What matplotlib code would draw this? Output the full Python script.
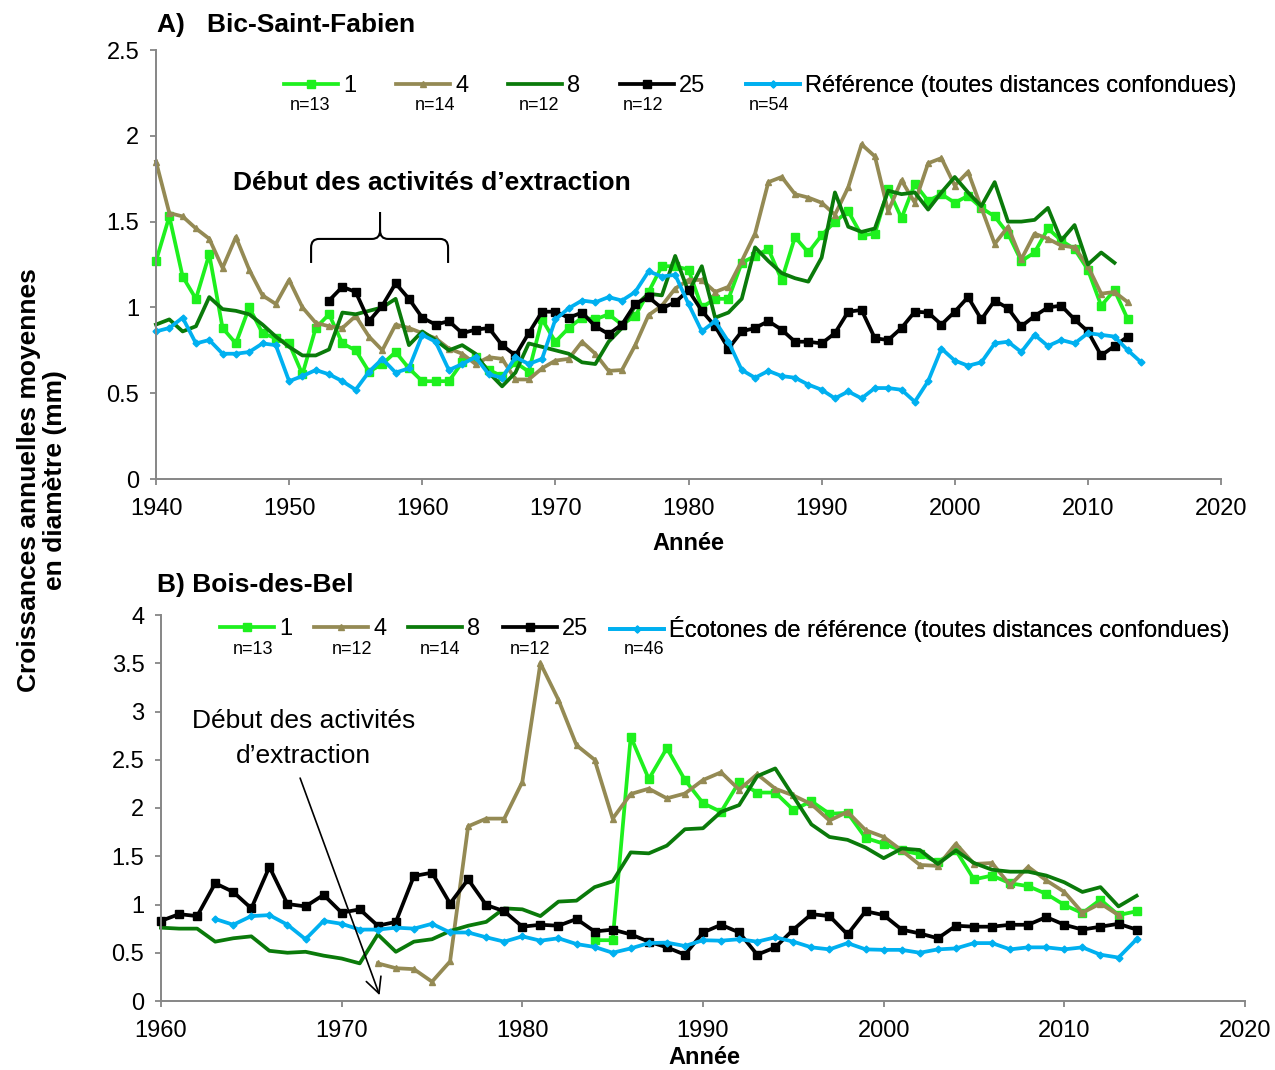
import numpy as np
import matplotlib
matplotlib.use("Agg")
import matplotlib.pyplot as plt
from matplotlib.path import Path
from matplotlib.patches import PathPatch
from matplotlib.ticker import FormatStrFormatter

plt.rcParams['font.family'] = ['Liberation Sans', 'DejaVu Sans']

# ---------------- Data: Panel A (Bic-Saint-Fabien) ----------------
A_years_1 = np.arange(1940, 2014)
A_d1 = [1.27, 1.53, 1.18, 1.05, 1.31, 0.88, 0.79, 1.00, 0.85, 0.82,
        0.79, 0.61, 0.88, 0.96, 0.79, 0.75, 0.625, 0.67, 0.74, 0.645,
        0.57, 0.57, 0.57, 0.68, 0.71, 0.635, 0.60, 0.68, 0.625, 0.93,
        0.80, 0.88, 0.94, 0.93, 0.96, 0.90, 0.95, 1.09, 1.24, 1.24,
        1.22, 1.00, 1.05, 1.05, 1.26, 1.30, 1.34, 1.16, 1.41, 1.32,
        1.42, 1.50, 1.56, 1.42, 1.43, 1.69, 1.52, 1.72, 1.62, 1.66,
        1.61, 1.65, 1.58, 1.53, 1.43, 1.27, 1.32, 1.46, 1.39, 1.34,
        1.22, 1.01, 1.10, 0.93]
A_years_4 = np.arange(1940, 2014)
A_d4 = [1.85, 1.55, 1.53, 1.46, 1.40, 1.23, 1.41, 1.22, 1.07, 1.02,
        1.16, 1.00, 0.91, 0.89, 0.88, 0.95, 0.83, 0.75, 0.90, 0.88,
        0.85, 0.82, 0.76, 0.73, 0.67, 0.71, 0.70, 0.58, 0.58, 0.645,
        0.69, 0.70, 0.80, 0.73, 0.63, 0.635, 0.78, 0.955, 1.01, 1.11,
        1.16, 1.16, 1.09, 1.12, 1.27, 1.43, 1.73, 1.76, 1.66, 1.64,
        1.61, 1.54, 1.70, 1.95, 1.88, 1.56, 1.74, 1.61, 1.84, 1.87,
        1.71, 1.79, 1.58, 1.37, 1.47, 1.28, 1.43, 1.40, 1.36, 1.35,
        1.24, 1.08, 1.09, 1.03]
A_years_8 = np.arange(1940, 2013)
A_d8 = [0.90, 0.93, 0.86, 0.89, 1.06, 0.99, 0.98, 0.96, 0.90, 0.83,
        0.77, 0.72, 0.72, 0.755, 0.97, 0.96, 0.98, 1.00, 1.05, 0.78,
        0.86, 0.81, 0.75, 0.78, 0.73, 0.62, 0.54, 0.62, 0.79, 0.77,
        0.75, 0.73, 0.68, 0.67, 0.80, 0.88, 1.01, 1.08, 1.07, 1.30,
        1.09, 1.24, 0.94, 0.97, 1.05, 1.35, 1.27, 1.20, 1.17, 1.15,
        1.29, 1.67, 1.47, 1.44, 1.46, 1.68, 1.66, 1.67, 1.57, 1.67,
        1.76, 1.67, 1.59, 1.73, 1.50, 1.50, 1.51, 1.58, 1.39, 1.48,
        1.25, 1.32, 1.26]
A_years_25 = np.arange(1953, 2014)
A_d25 = [1.04, 1.12, 1.09, 0.92, 1.01, 1.14, 1.05,
         0.94, 0.90, 0.92, 0.85, 0.87, 0.88, 0.78, 0.72, 0.85, 0.975,
         0.975, 0.94, 0.97, 0.89, 0.845, 0.90, 1.02, 1.06, 0.995, 1.03,
         1.10, 0.98, 0.89, 0.76, 0.86, 0.88, 0.92, 0.87, 0.80, 0.80,
         0.79, 0.85, 0.975, 0.985, 0.82, 0.81, 0.88, 0.975, 0.97, 0.90,
         0.975, 1.06, 0.93, 1.04, 0.995, 0.89, 0.95, 1.00, 1.01, 0.93,
         0.86, 0.72, 0.775, 0.83]
A_years_ref = np.arange(1940, 2015)
A_ref = [0.86, 0.88, 0.94, 0.79, 0.81, 0.73, 0.73, 0.74, 0.79, 0.78,
         0.57, 0.60, 0.635, 0.61, 0.57, 0.52, 0.625, 0.70, 0.62, 0.645,
         0.84, 0.80, 0.635, 0.67, 0.71, 0.61, 0.59, 0.71, 0.67, 0.70,
         0.93, 0.995, 1.04, 1.03, 1.06, 1.04, 1.09, 1.21, 1.18, 1.19,
         1.02, 0.86, 0.92, 0.80, 0.635, 0.59, 0.63, 0.60, 0.59, 0.55,
         0.52, 0.47, 0.51, 0.47, 0.53, 0.53, 0.52, 0.45, 0.57, 0.76,
         0.69, 0.66, 0.68, 0.79, 0.80, 0.74, 0.84, 0.775, 0.81, 0.79,
         0.85, 0.84, 0.83, 0.75, 0.68]

# ---------------- Data: Panel B (Bois-des-Bel) ----------------
B_years_1 = np.arange(1984, 2015)
B_d1 = [0.63, 0.63, 2.74, 2.30, 2.62, 2.29,
        2.05, 1.96, 2.27, 2.16, 2.16, 1.98, 2.07, 1.94, 1.95, 1.69,
        1.63, 1.56, 1.52, 1.44, 1.56, 1.26, 1.30, 1.22, 1.19, 1.11,
        0.995, 0.91, 1.05, 0.89, 0.93]
B_years_4 = np.arange(1972, 2014)
B_d4 = [0.39, 0.34, 0.33, 0.20, 0.41, 1.81, 1.89, 1.89,
        2.27, 3.50, 3.12, 2.65, 2.50, 1.89, 2.145, 2.20, 2.10, 2.15,
        2.29, 2.37, 2.19, 2.35, 2.20, 2.13, 2.04, 1.87, 1.96, 1.77,
        1.70, 1.56, 1.41, 1.40, 1.63, 1.42, 1.43, 1.20, 1.39, 1.25,
        1.13, 0.915, 1.01, 0.89]
B_years_8 = np.arange(1960, 2015)
B_d8 = [0.76, 0.75, 0.75, 0.615, 0.65, 0.67, 0.52, 0.50, 0.51, 0.47,
        0.44, 0.39, 0.69, 0.51, 0.615, 0.64, 0.725, 0.78, 0.82, 0.96,
        0.95, 0.88, 1.03, 1.04, 1.18, 1.24, 1.54, 1.53, 1.61, 1.78,
        1.79, 1.96, 2.03, 2.33, 2.41, 2.12, 1.83, 1.70, 1.67, 1.59,
        1.48, 1.58, 1.565, 1.42, 1.56, 1.43, 1.36, 1.34, 1.34, 1.30,
        1.23, 1.13, 1.18, 0.98, 1.09]
B_years_25 = np.arange(1960, 2015)
B_d25 = [0.83, 0.90, 0.88, 1.22, 1.13, 0.96, 1.39, 1.005, 0.98, 1.10,
         0.915, 0.95, 0.78, 0.82, 1.295, 1.33, 1.01, 1.26, 0.995, 0.93,
         0.77, 0.79, 0.78, 0.85, 0.72, 0.74, 0.69, 0.615, 0.556, 0.48,
         0.71, 0.79, 0.71, 0.48, 0.556, 0.74, 0.90, 0.88, 0.69, 0.93,
         0.89, 0.74, 0.70, 0.65, 0.78, 0.77, 0.77, 0.79, 0.79, 0.87,
         0.79, 0.74, 0.77, 0.80, 0.74]
B_years_ref = np.arange(1963, 2015)
B_ref = [0.85, 0.79, 0.88, 0.89, 0.79, 0.64, 0.83,
         0.80, 0.74, 0.74, 0.76, 0.75, 0.80, 0.71, 0.71, 0.66, 0.615,
         0.67, 0.625, 0.65, 0.59, 0.56, 0.50, 0.545, 0.60, 0.605, 0.57,
         0.63, 0.625, 0.64, 0.615, 0.66, 0.615, 0.556, 0.535, 0.60, 0.535,
         0.53, 0.53, 0.50, 0.535, 0.545, 0.60, 0.60, 0.535, 0.556, 0.556,
         0.535, 0.556, 0.48, 0.45, 0.64]

A_labels = ['1', '4', '8', '25', 'Référence (toutes distances confondues)']
A_n = ['n=13', 'n=14', 'n=12', 'n=12', 'n=54']
B_labels = ['1', '4', '8', '25', 'Écotones de référence (toutes distances confondues)']
B_n = ['n=13', 'n=12', 'n=14', 'n=12', 'n=46']

# ---------------- Styles ----------------
C1 = '#1ef01e'
C4 = '#948a54'
C8 = '#0a7a0a'
C25 = '#000000'
CREF = '#00b0f0'
LW = 2.7
styles = [
    dict(color=C1, marker='s', ms=5.5),
    dict(color=C4, marker='^', ms=5),
    dict(color=C8, marker=None, ms=0),
    dict(color=C25, marker='s', ms=5.5),
    dict(color=CREF, marker='D', ms=3.5),
]

W, H = 1275, 1070
fig = plt.figure(figsize=(W / 100, H / 100), dpi=100)

def px_axes(left, right, top, bottom):
    return fig.add_axes([left / W, 1 - bottom / H, (right - left) / W, (bottom - top) / H])

axA = px_axes(156, 1221, 50, 479)
axB = px_axes(161, 1245, 615, 1001)

def style_axes(ax):
    for s in ['top', 'right']:
        ax.spines[s].set_visible(False)
    for s in ['left', 'bottom']:
        ax.spines[s].set_color('#868686')
        ax.spines[s].set_linewidth(1.4)
    ax.tick_params(axis='both', direction='out', length=4, width=1.3,
                   color='#868686', labelsize=17, labelcolor='black')
    ax.tick_params(axis='x', pad=9.5)
    ax.tick_params(axis='y', pad=8)
    ax.yaxis.set_major_formatter(FormatStrFormatter('%g'))

def plot_series(ax, data):
    lines = []
    for (x, y), st in zip(data, styles):
        ln, = ax.plot(x, y, color=st['color'], lw=LW, marker=st['marker'],
                      ms=st['ms'], mec=st['color'], mfc=st['color'],
                      solid_joinstyle='round', clip_on=False)
        lines.append(ln)
    return lines

linesA = plot_series(axA, [(A_years_1, A_d1), (A_years_4, A_d4), (A_years_8, A_d8),
                           (A_years_25, A_d25), (A_years_ref, A_ref)])
linesB = plot_series(axB, [(B_years_1, B_d1), (B_years_4, B_d4), (B_years_8, B_d8),
                           (B_years_25, B_d25), (B_years_ref, B_ref)])

axA.set_xlim(1940, 2020)
axA.set_ylim(0, 2.5)
axA.set_xticks(np.arange(1940, 2021, 10))
axA.set_yticks(np.arange(0, 2.51, 0.5))
axB.set_xlim(1960, 2020)
axB.set_ylim(0, 4)
axB.set_xticks(np.arange(1960, 2021, 10))
axB.set_yticks(np.arange(0, 4.01, 0.5))
style_axes(axA)
style_axes(axB)

# ---------------- Legends (one per entry, positioned in pixels) ----------------
def add_legends(ax, lines, labels, nlabels, xs, y, nxs, ny):
    for ln, lab, x in zip(lines, labels, xs):
        leg = ax.legend([ln], [lab], loc='center left',
                        bbox_to_anchor=(x / W, 1 - y / H),
                        bbox_transform=fig.transFigure, frameon=False,
                        fontsize=17, handlelength=2.3, handletextpad=0.2,
                        borderpad=0, borderaxespad=0, numpoints=1)
        ax.add_artist(leg)
    for nl, nx in zip(nlabels, nxs):
        fig.text(nx / W, 1 - ny / H, nl, ha='center', va='center', fontsize=13)

add_legends(axA, linesA, A_labels, A_n, [284, 396, 508, 620, 746], 86,
            [310, 435, 539, 643, 769], 105)
add_legends(axB, linesB, B_labels, B_n, [220, 314, 408, 503, 610], 629,
            [253, 352, 440, 530, 644], 650)

# ---------------- Titles and labels ----------------
fig.text(157 / W, 1 - 25 / H, 'A)   Bic-Saint-Fabien', ha='left', va='center',
         fontsize=19, fontweight='bold')
fig.text(157 / W, 1 - 585 / H, 'B) Bois-des-Bel', ha='left', va='center',
         fontsize=19, fontweight='bold')
fig.text(42 / W, 1 - 480 / H, 'Croissances annuelles moyennes\nen diamètre (mm)',
         ha='center', va='center', rotation=90, fontsize=19, fontweight='bold',
         linespacing=1.15)
fig.text(688 / W, 1 - 543 / H, 'Année', ha='center', va='center',
         fontsize=17, fontweight='bold')
fig.text(704 / W, 1 - 1058 / H, 'Année', ha='center', va='center',
         fontsize=17, fontweight='bold')

# ---------------- Annotation A: brace ----------------
xl, xm, xr = 1951.65, 1956.83, 1961.94
yb, yh, yt = 1.259, 1.399, 1.556
dx, dy = 0.6, 0.05
verts = [(xl, yb), (xl, yh - dy), (xl, yh), (xl + dx, yh), (xm - dx, yh), (xm, yh), (xm, yh + dy), (xm, yt),
         (xm, yh + dy), (xm, yh), (xm + dx, yh), (xr - dx, yh), (xr, yh), (xr, yh - dy), (xr, yb)]
codes = [Path.MOVETO, Path.LINETO, Path.CURVE3, Path.CURVE3, Path.LINETO, Path.CURVE3, Path.CURVE3, Path.LINETO,
         Path.MOVETO, Path.CURVE3, Path.CURVE3, Path.LINETO, Path.CURVE3, Path.CURVE3, Path.LINETO]
axA.add_patch(PathPatch(Path(verts, codes), fill=False, lw=1.5, color='black'))
axA.text(1960.7, 1.725, 'Début des activités d\u2019extraction', ha='center', va='center',
         fontsize=19, fontweight='bold')

# ---------------- Annotation B: arrow ----------------
axB.annotate('', xy=(1972.1, 0.06), xytext=(1967.7, 2.31),
             arrowprops=dict(arrowstyle='->', color='black', lw=1.2,
                             mutation_scale=28, shrinkA=0, shrinkB=0))
axB.text(1967.9, 2.72, 'Début des activités\nd\u2019extraction', ha='center', va='center',
         fontsize=19, linespacing=1.55)

fig.savefig('out.png', dpi=100, facecolor='white')
